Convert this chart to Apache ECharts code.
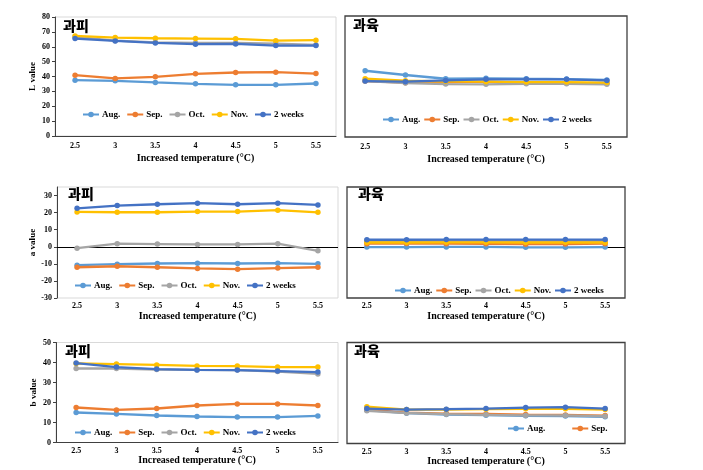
<!DOCTYPE html>
<html><head><meta charset="utf-8">
<script src="https://cdn.jsdelivr.net/npm/echarts@6/dist/echarts.min.js"></script>
<style>html,body{margin:0;padding:0;background:#fff}#c{width:703px;height:470px}</style>
</head><body><div id="c"></div>
<script>
const categories = ['2.5','3','3.5','4','4.5','5','5.5'];
const seriesNames = ['Aug.','Sep.','Oct.','Nov.','2 weeks'];
const colors = ['#5B9BD5','#ED7D31','#A5A5A5','#FFC000','#4472C4'];
const panelTitles = ['과피','과육','과피','과육','과피','과육'];
const yNames = ['L value','','a value','','b value',''];
const xName = 'Increased temperature (°C)';

// L value, peel
const lPeelAug = [37.5, 37.1, 36.0, 35.1, 34.4, 34.4, 35.3];
const lPeelSep = [40.9, 38.7, 39.8, 41.8, 42.7, 42.9, 42.0];
const lPeelOct = [66.6, 64.1, 63.0, 62.6, 62.6, 62.1, 61.2];
const lPeelNov = [67.3, 66.2, 65.7, 65.5, 65.3, 64.1, 64.4];
const lPeel2w  = [65.5, 63.9, 62.6, 61.7, 61.9, 60.8, 60.8];
// L value, flesh
const lFleshAug = [43.8, 41.0, 38.5, 38.8, 38.5, 38.3, 37.7];
const lFleshSep = [37.0, 35.9, 36.1, 36.6, 35.9, 35.7, 35.5];
const lFleshOct = [37.0, 35.7, 35.0, 34.8, 35.2, 35.2, 34.8];
const lFleshNov = [38.5, 37.2, 36.8, 36.6, 36.3, 36.3, 36.0];
const lFlesh2w  = [37.0, 36.6, 37.4, 38.1, 38.1, 38.1, 37.4];
// a value, peel
const aPeelAug = [-10.8, -10.2, -9.8, -9.6, -9.8, -9.6, -10.0];
const aPeelSep = [-12.0, -11.4, -12.0, -12.7, -13.1, -12.5, -12.0];
const aPeelOct = [-0.8, 1.8, 1.6, 1.4, 1.4, 1.8, -2.4];
const aPeelNov = [20.4, 20.2, 20.2, 20.6, 20.6, 21.4, 20.2];
const aPeel2w  = [22.5, 24.1, 24.9, 25.5, 24.9, 25.5, 24.5];
// a value, flesh
const aFleshAug = [-0.2, -0.2, -0.1, -0.1, -0.3, -0.3, -0.2];
const aFleshSep = [1.8, 1.9, 1.8, 1.7, 1.5, 1.6, 1.8];
const aFleshOct = [3.3, 3.3, 3.4, 3.4, 3.3, 3.4, 3.4];
const aFleshNov = [2.5, 2.5, 2.6, 2.6, 2.5, 2.6, 2.5];
const aFlesh2w  = [4.1, 4.1, 4.2, 4.2, 4.2, 4.2, 4.2];
// b value, peel
const bPeelAug = [15.0, 14.3, 13.5, 13.0, 12.7, 12.7, 13.3];
const bPeelSep = [17.5, 16.3, 17.0, 18.5, 19.3, 19.3, 18.5];
const bPeelOct = [37.0, 37.0, 36.5, 36.3, 36.2, 35.5, 34.3];
const bPeelNov = [39.5, 39.2, 38.8, 38.3, 38.2, 37.7, 37.7];
const bPeel2w  = [39.7, 37.7, 36.7, 36.3, 36.2, 35.7, 35.2];
// b value, flesh
const bFleshAug = [16.5, 15.0, 14.3, 14.0, 13.7, 13.6, 13.2];
const bFleshSep = [16.8, 15.3, 14.8, 14.6, 14.3, 14.1, 13.8];
const bFleshOct = [16.2, 15.1, 14.5, 14.2, 13.9, 13.9, 13.5];
const bFleshNov = [18.2, 16.8, 16.8, 17.0, 17.2, 17.2, 16.8];
const bFlesh2w  = [17.3, 16.8, 17.0, 17.3, 17.8, 18.0, 17.3];

const panelData = [
  [lPeelAug, lPeelSep, lPeelOct, lPeelNov, lPeel2w],
  [lFleshAug, lFleshSep, lFleshOct, lFleshNov, lFlesh2w],
  [aPeelAug, aPeelSep, aPeelOct, aPeelNov, aPeel2w],
  [aFleshAug, aFleshSep, aFleshOct, aFleshNov, aFlesh2w],
  [bPeelAug, bPeelSep, bPeelOct, bPeelNov, bPeel2w],
  [bFleshAug, bFleshSep, bFleshOct, bFleshNov, bFlesh2w]
];
const yRanges = [[0,80,10],[0,80,10],[-30,35,10],[-30,35,10],[0,50,10],[0,50,10]];

// layout
const grids = [
  {left:55, top:17, width:281, height:119},
  {left:345, top:16, width:282, height:121},
  {left:57, top:187, width:281, height:111},
  {left:347, top:187, width:278, height:111},
  {left:56, top:342.5, width:282, height:100},
  {left:347, top:342.5, width:278, height:101}
];
const legendPos = [
  {left:82, top:110, gap:6},
  {left:382, top:115, gap:3},
  {left:74, top:281, gap:6},
  {left:394, top:286, gap:3},
  {left:74, top:428, gap:6},
  {left:507, top:424, gap:26}
];
const xNameGap = [17, 17, 13, 13, 13, 13];
const xLabelMargin = [6, 6, 4, 4, 4, 4];
const titlePos = [[63,19],[353,18],[68,187],[358,187],[65,344],[354,344]];

const serifFont = '"Liberation Serif", "Times New Roman", serif';
const option = {
  animation: false,
  backgroundColor: '#fff',
  title: panelTitles.map((t,i)=>({text:t, left:titlePos[i][0], top:titlePos[i][1], padding:0,
    textStyle:{fontFamily:'"Noto Sans CJK KR"', fontWeight:900, fontSize:14, color:'#000'}})),
  grid: grids.map((g,i)=>Object.assign({show:true, containLabel:false,
    borderColor: i%2===0 ? '#d9d9d9' : '#404040', borderWidth: i%2===0 ? 1 : 1.3}, g)),
  legend: legendPos.map((p,i)=>({
    left:p.left, top:p.top, padding:0, itemGap:p.gap, itemWidth:16, itemHeight:7,
    data: i===5 ? ['Aug.','Sep.'] : seriesNames,
    textStyle:{fontFamily:serifFont, fontWeight:'bold', fontSize:9, color:'#000', padding:[0,0,0,-2]},
    selectedMode:false
  })),
  xAxis: grids.map((g,i)=>({
    type:'category', gridIndex:i, data:categories, boundaryGap:true,
    name:xName, nameLocation:'middle', nameGap:xNameGap[i],
    nameTextStyle:{fontFamily:serifFont, fontWeight:'bold', fontSize:10, color:'#000'},
    axisLine:{show: i%2===0 && i!==2, onZero:false, lineStyle:{color:'#404040', width:1}},
    axisTick:{show:false},
    axisLabel:{fontFamily:serifFont, fontWeight:'bold', fontSize:8, color:'#000', margin:xLabelMargin[i]},
    splitLine:{show:false}
  })),
  yAxis: grids.map((g,i)=>({
    type:'value', gridIndex:i, min:yRanges[i][0], max:yRanges[i][1], interval:yRanges[i][2],
    show: i%2===0,
    name:yNames[i], nameLocation:'middle', nameGap:18, nameRotate:90,
    nameTextStyle:{fontFamily:serifFont, fontWeight:'bold', fontSize:9, color:'#000'},
    axisLine:{show:true, lineStyle:{color:'#404040', width:1}},
    axisTick:{show:true, length:3, lineStyle:{color:'#404040'}},
    axisLabel:{fontFamily:serifFont, fontWeight:'bold', fontSize:8, color:'#000', margin:5, showMaxLabel: i>=2 && i<4 ? false : true},
    splitLine:{show:false}
  })),
  series: []
};
panelData.forEach((arrs,pi)=>{
  arrs.forEach((vals,si)=>{
    const s = {
      type:'line', name:seriesNames[si], xAxisIndex:pi, yAxisIndex:pi, data:vals,
      symbol:'circle', symbolSize:5.5, showSymbol:true,
      lineStyle:{color:colors[si], width:2.3},
      itemStyle:{color:colors[si]},
      z: 3 + si
    };
    if ((pi===2 || pi===3) && si===0) {
      s.markLine = {silent:true, symbol:'none', label:{show:false},
        lineStyle:{color:'#000', width:1, type:'solid'}, data:[{yAxis:0}], z:2};
    }
    option.series.push(s);
  });
});
const chart = echarts.init(document.getElementById('c'), null, {renderer:'canvas'});
chart.setOption(option);
</script>
</body></html>
